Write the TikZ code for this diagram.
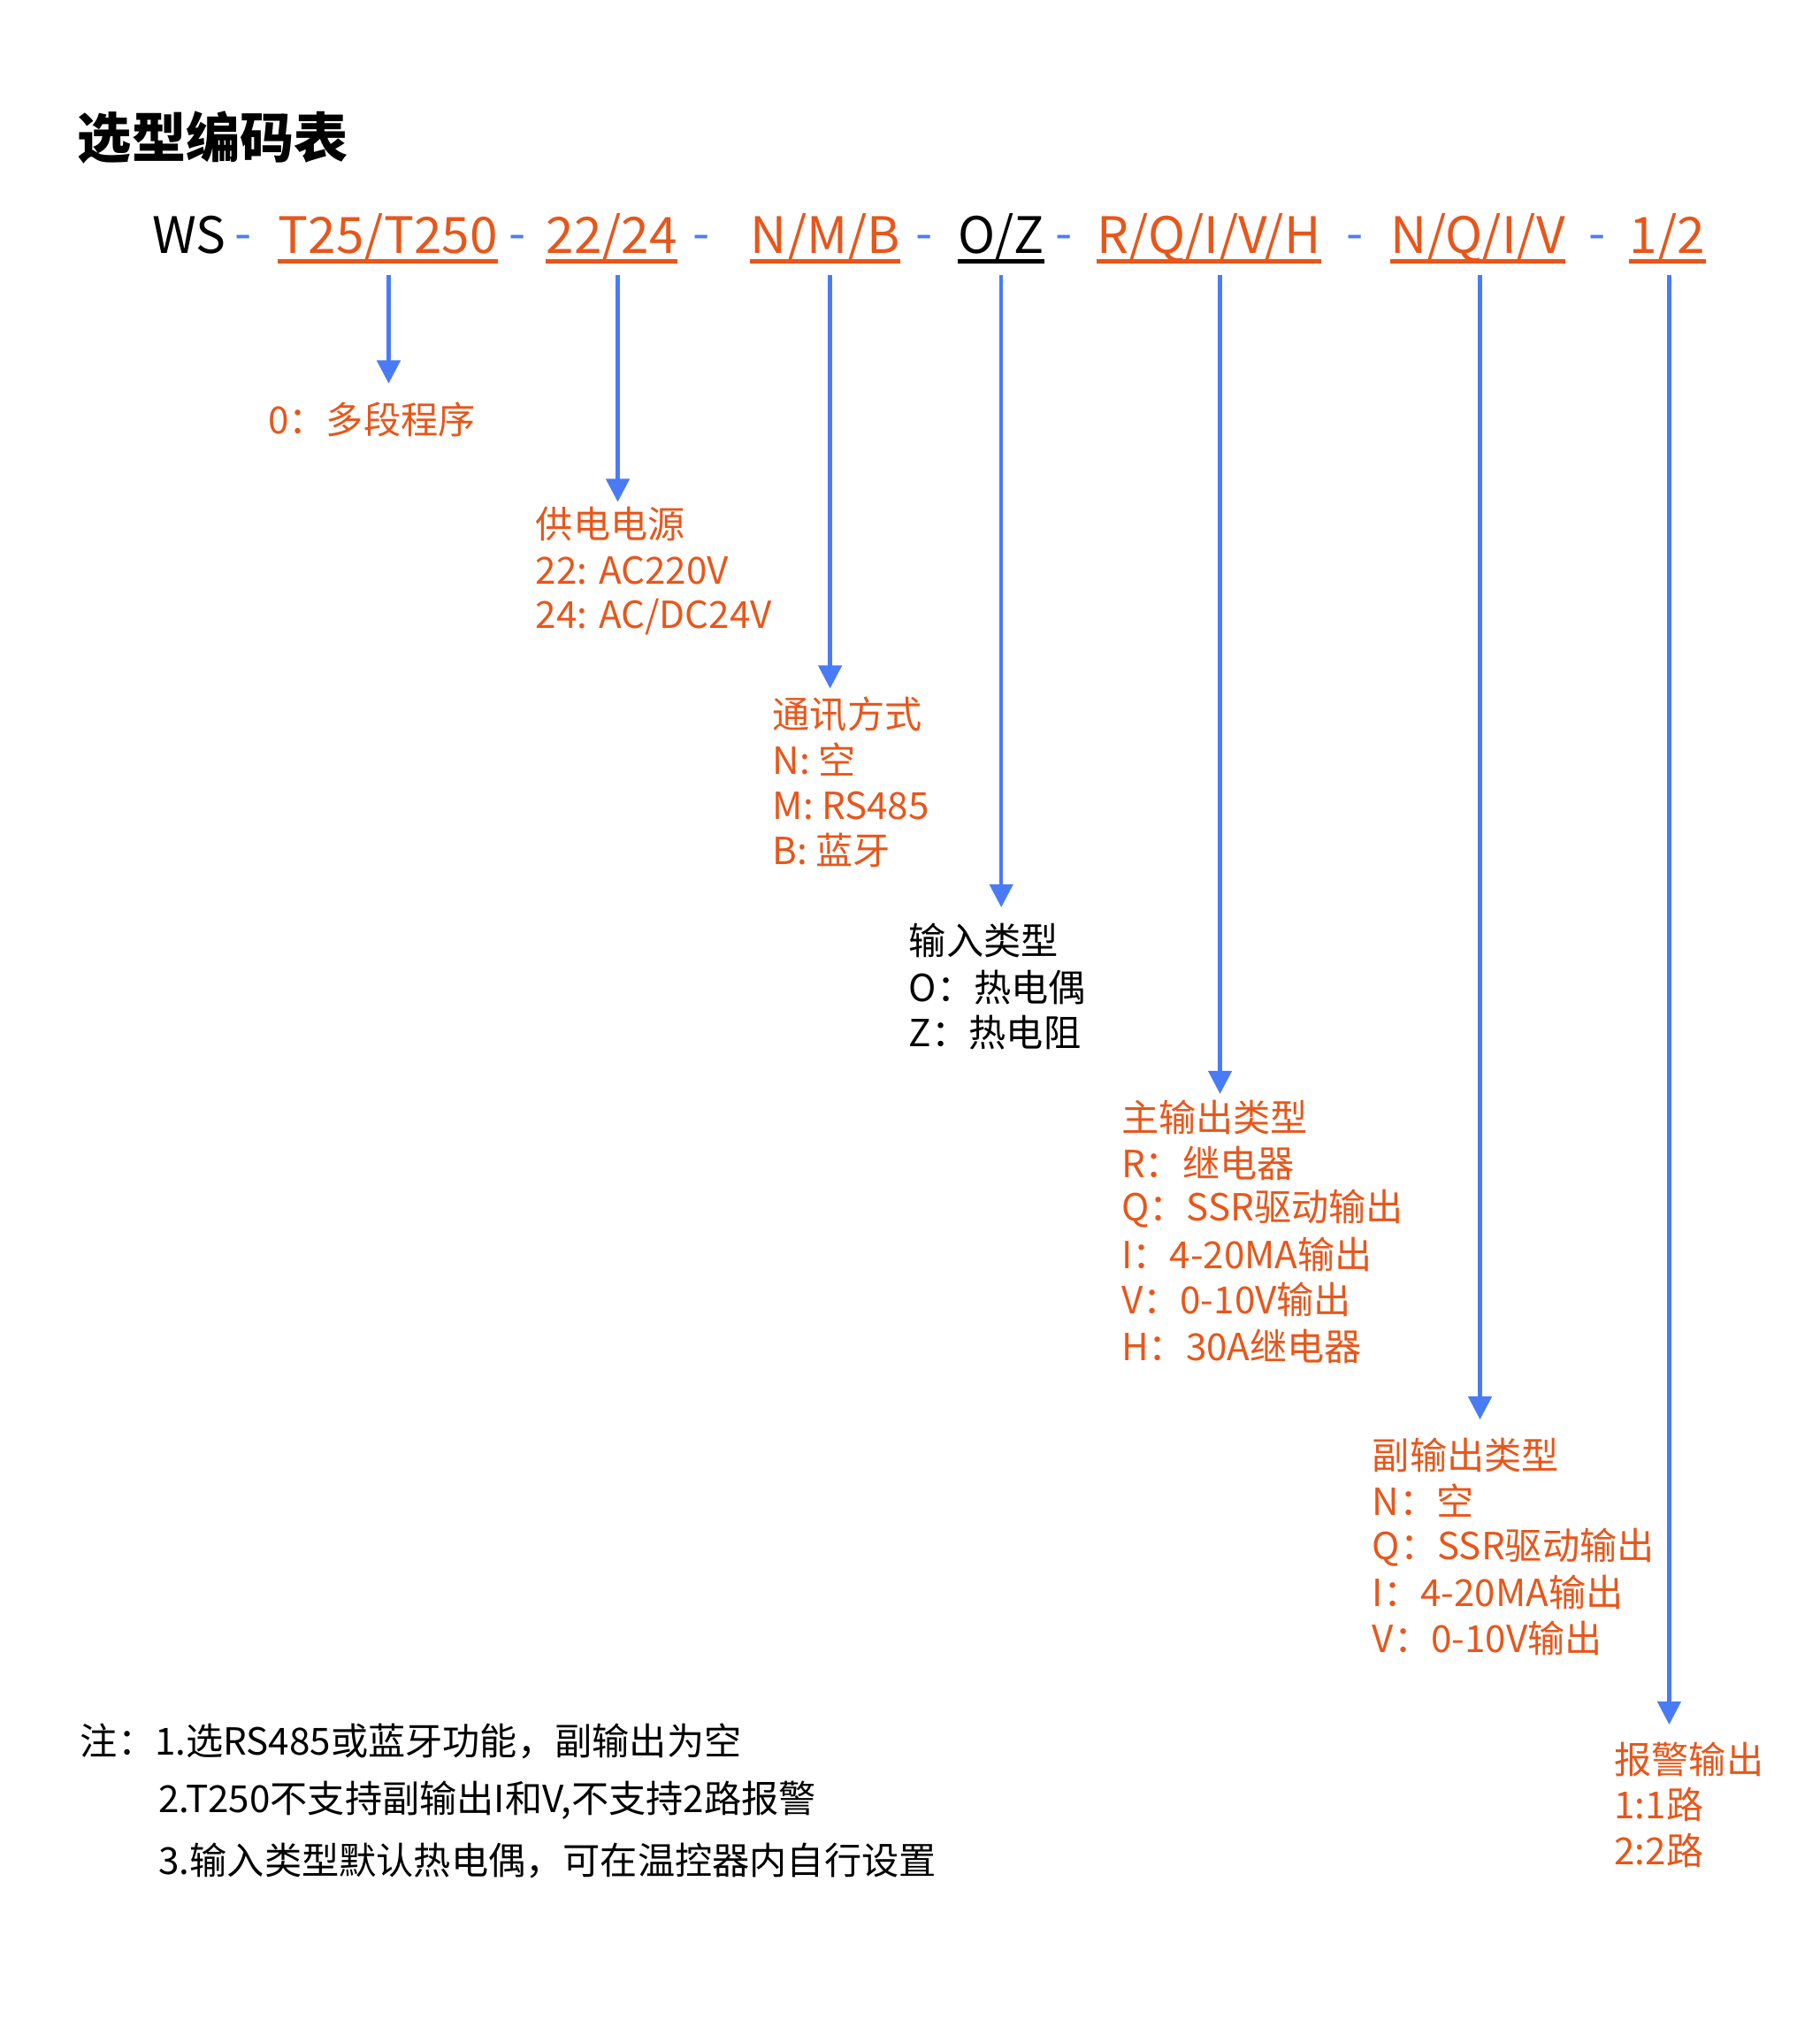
\documentclass[tikz,border=0pt]{standalone}
\usepackage{fontspec}
\setmainfont{Noto Sans CJK SC}
\usetikzlibrary{arrows.meta}
\definecolor{org}{HTML}{E8561A}
\definecolor{blu}{HTML}{4A7BF7}
\begin{document}
\begin{tikzpicture}[x=0.5pt,y=-0.5pt,
  code/.style={font=\fontsize{19.5}{23}\selectfont,inner sep=0pt,anchor=base west},
  dsh/.style={font=\fontsize{19}{22}\selectfont,inner sep=0pt,anchor=base,text=blu},
  ul/.style={line width=1.5pt,draw=org},
  arr/.style={draw=blu,line width=1.5pt,-{Triangle[width=9pt,length=9pt]}},
  lbl/.style={font=\fontsize{14.5}{17}\selectfont,inner sep=0pt,anchor=west,text=org},
  blk/.style={font=\fontsize{14.5}{17}\selectfont,inner sep=0pt,anchor=west,text=black}]
\useasboundingbox (0,0) rectangle (1414,1575);
\node[font=\bfseries\fontsize{21}{24}\selectfont,inner sep=0pt,anchor=west] (title) at (60,107) {选型编码表};
% code row
\node[code] (ws) at (118,197) {WS};
\node[code,text=org] (c1) at (216,197) {T25/T250};
\node[code,text=org] (c2) at (424,197) {22/24};
\node[code,text=org] (c3) at (583,197) {N/M/B};
\node[code] (c4) at (744,197) {O/Z};
\node[code,text=org] (c5) at (852,197) {R/Q/I/V/H};
\node[code,text=org] (c6) at (1080,197) {N/Q/I/V};
\node[code,text=org] (c7) at (1266,197) {1/2};
\node[dsh] (d0) at (189,195) {-};
\node[dsh] (d1) at (402,195) {-};
\node[dsh] (d2) at (545,195) {-};
\node[dsh] (d3) at (718,195) {-};
\node[dsh] (d4) at (827,195) {-};
\node[dsh] (d5) at (1053,195) {-};
\node[dsh] (d6) at (1241,195) {-};
\foreach \n in {c1,c2,c3,c5,c6,c7}
  \draw[ul] ([yshift=-3pt]\n.base west) -- ([yshift=-3pt]\n.base east);
\draw[line width=1.5pt] ([yshift=-3pt]c4.base west) -- ([yshift=-3pt]c4.base east);
% arrows
\foreach \x/\e [count=\i] in {302/298,480/390,645/535,778/705,948/850,1150/1103,1297/1340}{
  \coordinate (s\i) at (\x,214);
  \coordinate (t\i) at (\x,\e);
  \draw[arr] (s\i) -- (t\i);
}
% labels
\node[lbl] (a1) at (208,326) {0：多段程序};
\node[lbl] (b1) at (416,407) {供电电源};
\node[lbl] (b2) at (416,443) {22: AC220V};
\node[lbl] (b3) at (416,479) {24: AC/DC24V};
\node[lbl] (e1) at (600,555) {通讯方式};
\node[lbl] (e2) at (600,590) {N: 空};
\node[lbl] (e3) at (600,626) {M: RS485};
\node[lbl] (e4) at (600,661) {B: 蓝牙};
\node[blk] (f1) at (706,731) {输入类型};
\node[blk] (f2) at (706,767) {O：热电偶};
\node[blk] (f3) at (706,802) {Z：热电阻};
\node[lbl] (g1) at (871,868) {主输出类型};
\node[lbl] (g2) at (871,904) {R：继电器};
\node[lbl] (g3) at (871,939) {Q：SSR驱动输出};
\node[lbl] (g4) at (871,975) {I：4-20MA输出};
\node[lbl] (g5) at (871,1010) {V：0-10V输出};
\node[lbl] (g6) at (871,1046) {H：30A继电器};
\node[lbl] (h1) at (1066,1131) {副输出类型};
\node[lbl] (h2) at (1066,1166) {N：空};
\node[lbl] (h3) at (1066,1202) {Q：SSR驱动输出};
\node[lbl] (h4) at (1066,1237) {I：4-20MA输出};
\node[lbl] (h5) at (1066,1273) {V：0-10V输出};
\node[lbl] (k1) at (1254,1367) {报警输出};
\node[lbl] (k2) at (1254,1402) {1:1路};
\node[lbl] (k3) at (1254,1438) {2:2路};
% notes
\node[blk] (n1) at (62,1353) {注：1.选RS485或蓝牙功能，副输出为空};
\node[blk] (n2) at (123,1399) {2.T250不支持副输出I和V,不支持2路报警};
\node[blk] (n3) at (123,1446) {3.输入类型默认热电偶，可在温控器内自行设置};
\end{tikzpicture}
\end{document}
